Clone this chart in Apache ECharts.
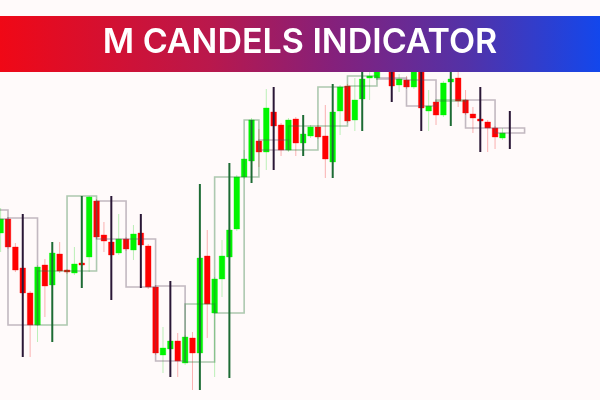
<!DOCTYPE html>
<html>
<head>
<meta charset="utf-8">
<script src="https://cdn.jsdelivr.net/npm/echarts@6/dist/echarts.min.js"></script>
<style>html,body{margin:0;padding:0;background:#fffafa;}#c{width:600px;height:400px;}</style>
</head>
<body>
<div id="c"></div>
<script>
// Lower timeframe candles (index, open, close, high, low) in price units
const idx   = [-1,0,1,2,3,4,5,6,7,8,9,10,11,12,13,14,15,16,17,18,19,20,21,22,23,24,25,26,27,28,29,30,31,32,33,34,35,36,37,38,39,40,41,42,43,44,45,46,47,48,49,50,51,52,53,54,55,56,57,58,59,60,61,62,63,64,65,66,67];
const open  = [167,181,153,132,107,75,135,115,146,130,127,137,143,199,165,158,147,161,150,167,154,113,45,51,59,37,62,47,144,87,121,143,171,223,239,259,248,288,275,250,281,257,264,273,264,238,289,314,280,301,322,322,334,335,315,320,313,334,289,298,285,318,322,300,286,281,278,272,262];
const close = [181,153,130,107,75,133,114,147,129,128,136,135,203,163,159,145,161,151,166,155,113,47,52,59,39,63,47,142,96,121,144,170,223,241,280,248,292,274,250,280,257,266,273,263,241,288,313,279,300,321,324,329,342,314,321,313,335,292,294,285,317,321,299,287,282,279,272,263,267];
const high  = [192,183,157,134,109,135,141,149,158,131,153,138,204,201,178,160,186,163,175,170,156,115,73,61,67,65,68,144,170,123,160,172,225,250,282,271,311,290,277,282,283,268,275,275,295,290,315,316,322,330,335,338,345,340,326,324,340,340,310,300,319,329,328,310,293,282,280,274,272];
const low   = [148,151,128,104,43,58,83,112,127,126,125,134,128,161,148,143,145,149,140,153,111,45,27,49,23,35,10,45,62,23,103,141,169,221,237,233,230,267,244,248,244,255,262,261,222,236,265,277,269,299,300,320,330,312,308,311,311,290,269,275,283,316,293,285,267,278,248,251,260];

// Higher timeframe "M candles" (start index, end index, open, close, high, low)
const mStart = [-4,0,4,8,12,16,20,24,28,32,34,38,42,46,50,54,58,62,66];
const mEnd   = [0,4,8,12,16,20,24,28,32,34,38,42,46,50,54,58,62,66,70];
const mOpen  = [190,182,75,129,199,161,114,38,87,223,260,250,274,314,322,320,299,300,272];
const mClose = [181,75,129,204,161,113,39,96,223,280,250,274,313,324,321,294,300,272,267];
const mHigh  = [195,186,158,204,204,186,119,216,237,280,313,285,316,345,345,345,329,313,289];
const mLow   = [145,43,58,112,100,112,23,10,22,217,230,244,222,269,298,269,274,248,251];

const title = 'M CANDELS INDICATOR';

const candleData = idx.map((x, k) => [x, open[k], close[k], high[k], low[k]]);
const mData = mStart.map((s, k) => [s, mEnd[k], mOpen[k], mClose[k], mHigh[k], mLow[k]]);

const chart = echarts.init(document.getElementById('c'), null, {renderer: 'canvas'});

function renderCandle(params, api) {
  const x = api.value(0), o = api.value(1), c = api.value(2), h = api.value(3), l = api.value(4);
  const pO = api.coord([x, o]), pC = api.coord([x, c]), pH = api.coord([x, h]), pL = api.coord([x, l]);
  const w = api.size([1, 0])[0] * 0.76;
  const up = c >= o;
  const top = Math.min(pO[1], pC[1]);
  const hgt = Math.max(Math.abs(pO[1] - pC[1]), 2);
  return {
    type: 'group',
    children: [
      {type: 'line', shape: {x1: pH[0], y1: pH[1], x2: pL[0], y2: pL[1]},
       style: {stroke: up ? 'rgba(60,220,60,0.35)' : 'rgba(240,40,40,0.35)', lineWidth: 1}},
      {type: 'rect', shape: {x: pO[0] - w / 2, y: top, width: w, height: hgt},
       style: {fill: up ? '#00f500' : '#ff0000', stroke: up ? 'rgba(0,245,0,0.35)' : 'rgba(255,0,0,0.35)', lineWidth: 1}}
    ]
  };
}

function renderM(params, api) {
  const s = api.value(0), e = api.value(1), o = api.value(2), c = api.value(3), h = api.value(4), l = api.value(5);
  const up = c >= o;
  const p1 = api.coord([s, Math.max(o, c)]);
  const p2 = api.coord([e, Math.min(o, c)]);
  const mid = (s + e) / 2;
  const pH = api.coord([mid, h]), pL = api.coord([mid, l]);
  return {
    type: 'group',
    children: [
      {type: 'rect', shape: {x: p1[0], y: p1[1], width: p2[0] - p1[0], height: Math.max(p2[1] - p1[1], 1)},
       style: {fill: 'none', stroke: up ? 'rgba(40,120,55,0.38)' : 'rgba(95,80,100,0.38)', lineWidth: 1.6}},
      {type: 'line', shape: {x1: pH[0], y1: pH[1], x2: pL[0], y2: pL[1]},
       style: {stroke: up ? '#1d6b34' : '#2a1736', lineWidth: 2}}
    ]
  };
}

chart.setOption({
  backgroundColor: '#fffafa',
  animation: false,
  grid: {left: 0, right: 0, top: 0, bottom: 0},
  xAxis: {type: 'value', min: -1.084, max: 80.22, show: false},
  yAxis: {type: 'value', min: 0, max: 400, show: false, splitLine: {show: false}},
  series: [
    {type: 'custom', renderItem: renderCandle, data: candleData, z: 2,
     encode: {x: 0, y: [1, 2, 3, 4]}, silent: true},
    {type: 'custom', renderItem: renderM, data: mData, z: 3,
     encode: {x: [0, 1], y: [2, 3, 4, 5]}, silent: true}
  ],
  graphic: [
    {type: 'rect', z: 100, shape: {x: 0, y: 16, width: 600, height: 56},
     style: {fill: new echarts.graphic.LinearGradient(0, 0, 1, 0, [
       {offset: 0, color: '#f00816'},
       {offset: 0.35, color: '#b9184c'},
       {offset: 0.55, color: '#86207a'},
       {offset: 0.78, color: '#5232a8'},
       {offset: 1, color: '#1347ec'}
     ])}},
    {type: 'text', z: 101, x: 300, y: 43,
     style: {text: title, fill: '#ffffff', fontSize: 34, fontWeight: 600, fontFamily: 'Inter',
             align: 'center', verticalAlign: 'middle', textAlign: 'center', textVerticalAlign: 'middle'}}
  ]
});
</script>
</body>
</html>
